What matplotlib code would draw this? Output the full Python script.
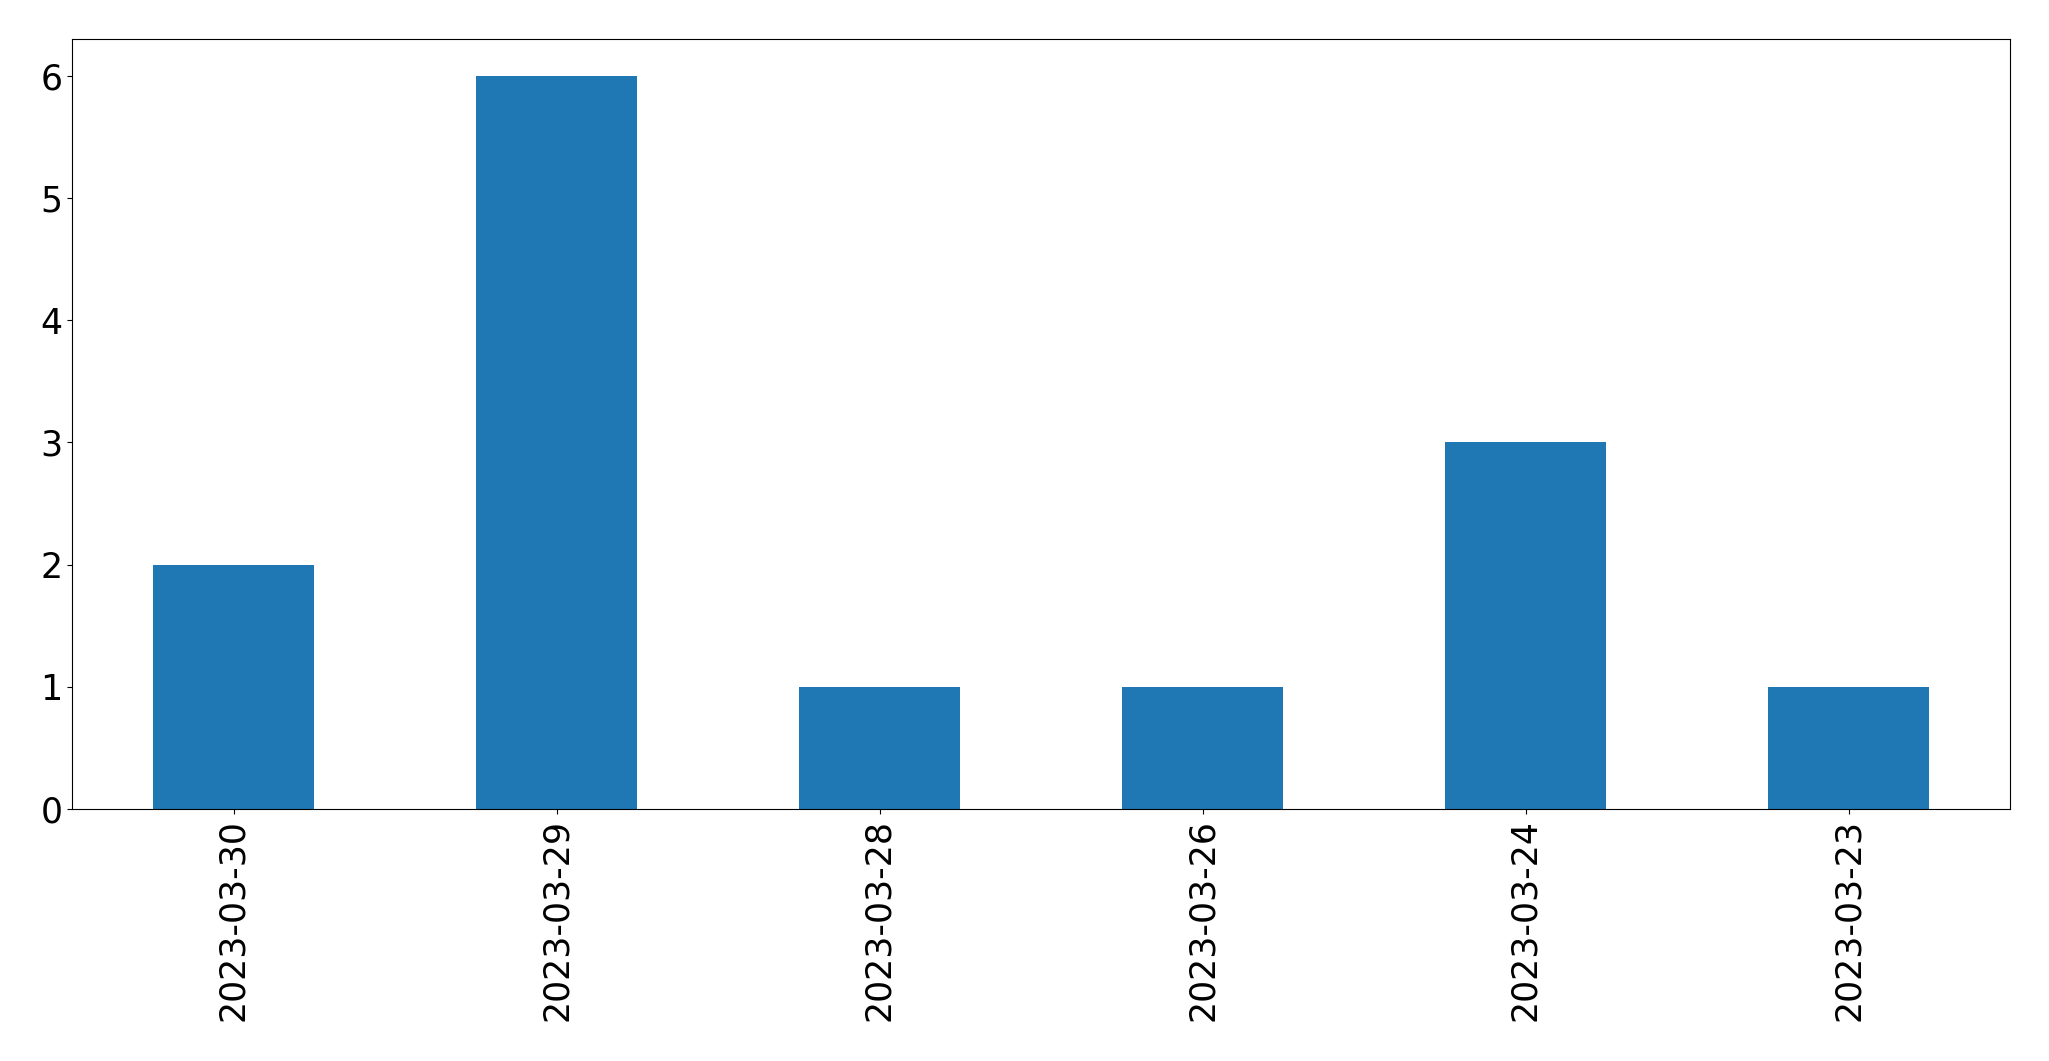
import matplotlib
matplotlib.use("Agg")
import matplotlib.pyplot as plt
import numpy as np

# counts per date
dates = ['2023-03-30', '2023-03-29', '2023-03-28',
         '2023-03-26', '2023-03-24', '2023-03-23']
counts = [2, 6, 1, 1, 3, 1]

fig = plt.figure(figsize=(20.49, 10.61), dpi=100)
ax = fig.add_axes([72 / 2049, 1 - 809 / 1061, (2010 - 72) / 2049, (809 - 39) / 1061])

x = np.arange(len(dates))
ax.bar(x, counts, width=0.5, color='#1f77b4')
ax.set_xlim(-0.5, len(dates) - 0.5)
ax.set_ylim(0, 6.3)

ax.set_xticks(x)
ax.set_xticklabels(dates, rotation=90)
ax.tick_params(axis='both', labelsize=25)

fig.savefig('out.png', dpi=100)
